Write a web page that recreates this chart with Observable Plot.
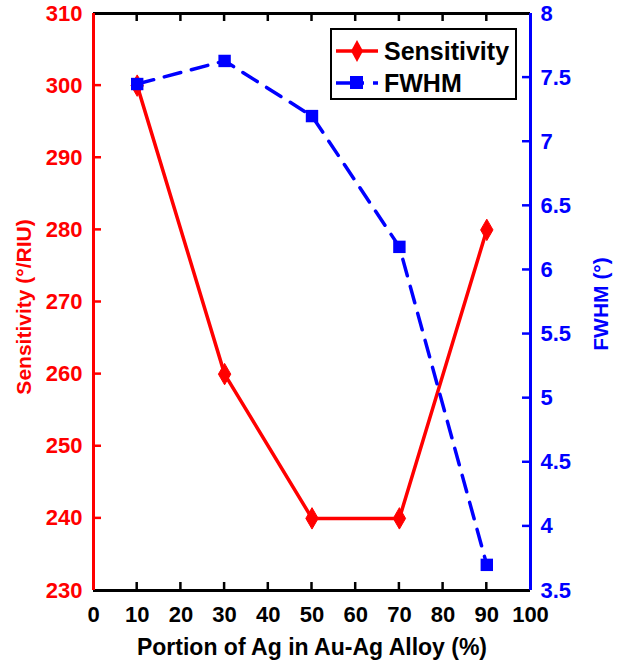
<!DOCTYPE html>
<html>
<head>
<meta charset="utf-8">
<script src="https://cdn.jsdelivr.net/npm/d3@7"></script>
<script src="https://cdn.jsdelivr.net/npm/@observablehq/plot@0.6"></script>
<style>
  html, body { margin: 0; padding: 0; background: #fff; }
  #wrap { position: relative; width: 617px; height: 660px; }
  #legend { position: absolute; left: 330px; top: 28px; width: 183px; height: 68px;
    border: 2.5px solid #000; background: #fff; font-family: "Liberation Sans", Arial, sans-serif;
    font-weight: bold; font-size: 25px; }
  #legend .row { position: absolute; left: 0; height: 32px; display: flex; align-items: center; }
  #legend svg { display: block; }
</style>
</head>
<body>
<div id="wrap"></div>
<script>
// ---- data ----
const portion = [10, 30, 50, 70, 90];               // Portion of Ag (%)
const sensitivity = [300, 260, 240, 240, 280];       // deg/RIU
const fwhm = [7.45, 7.63, 7.20, 6.18, 3.70];         // deg
const xTicks = [0, 10, 20, 30, 40, 50, 60, 70, 80, 90, 100];
const sensTicks = [230, 240, 250, 260, 270, 280, 290, 300, 310];
const fwhmTicks = [3.5, 4, 4.5, 5, 5.5, 6, 6.5, 7, 7.5, 8];
const xLabel = "Portion of Ag in Au-Ag Alloy (%)";
const yLabelLeft = "Sensitivity (°/RIU)";
const yLabelRight = "FWHM (°)";
const seriesNames = ["Sensitivity", "FWHM"];

const S = [230, 310], F = [3.5, 8];
const toS = f => S[0] + (f - F[0]) * (S[1] - S[0]) / (F[1] - F[0]);
const toF = s => F[0] + (s - S[0]) * (F[1] - F[0]) / (S[1] - S[0]);

const red = "#ff0000", blue = "#0000ff";
const sensData = portion.map((p, i) => ({x: p, y: sensitivity[i]}));
const fwhmData = portion.map((p, i) => ({x: p, y: toS(fwhm[i])}));

const W = 617, H = 660, mL = 93, mR = 87, mT = 13, mB = 70;
const tk = 8;
const innerX = xTicks.slice(1, -1);
const innerS = sensTicks.slice(1, -1);
const innerF = fwhmTicks.slice(1, -1);

const chart = Plot.plot({
  width: W, height: H,
  marginLeft: mL, marginRight: mR, marginTop: mT, marginBottom: mB,
  style: {fontFamily: "'Liberation Sans', Arial, sans-serif", fontWeight: "bold", fontSize: "22px", background: "#fff", overflow: "visible"},
  x: {domain: [0, 100]},
  y: {domain: S},
  marks: [
    Plot.ruleY([S[0]], {stroke: "#000", strokeWidth: 3}),
    Plot.ruleY([S[1]], {stroke: "#000", strokeWidth: 3}),
    Plot.axisX({ticks: xTicks, anchor: "bottom", tickSize: 0, tickPadding: 16, color: "#000", label: null}),
    Plot.axisY({ticks: sensTicks, anchor: "left", tickSize: 0, tickPadding: 11, color: red, label: null}),
    Plot.axisY({ticks: fwhmTicks.map(toS), anchor: "right", tickSize: 0, tickPadding: 10, color: blue, label: null,
      tickFormat: s => d3.format("")(+toF(s).toFixed(2))}),
    Plot.ruleX([0], {stroke: red, strokeWidth: 3}),
    Plot.ruleX([100], {stroke: blue, strokeWidth: 3}),
    Plot.text([yLabelLeft], {frameAnchor: "left", dx: -69, dy: 5, rotate: -90, textAnchor: "middle", lineAnchor: "middle", fill: red, fontSize: 21, fontWeight: "bold"}),
    Plot.text([yLabelRight], {frameAnchor: "right", dx: 71, dy: 2, rotate: -90, textAnchor: "middle", lineAnchor: "middle", fill: blue, fontSize: 21, fontWeight: "bold"}),
    Plot.text([xLabel], {frameAnchor: "bottom", dy: 57, lineAnchor: "middle", textAnchor: "middle", fill: "#000", fontSize: 23, fontWeight: "bold"}),
    Plot.line(sensData, {x: "x", y: "y", stroke: red, strokeWidth: 3.5}),
    Plot.dot(sensData, {x: "x", y: "y", symbol: "diamond", r: 6.5, fill: red, stroke: red, strokeWidth: 1}),
    Plot.line(fwhmData, {x: "x", y: "y", stroke: blue, strokeWidth: 3.5, strokeDasharray: "17,11"}),
    Plot.dot(fwhmData, {x: "x", y: "y", symbol: "square", r: 7, fill: blue})
  ]
});

// inward tick marks, positioned through the chart's own scales
const xs = chart.scale("x"), ys = chart.scale("y");
const svgNS = "http://www.w3.org/2000/svg";
const tickG = document.createElementNS(svgNS, "g");
function addTick(x1, y1, x2, y2, color) {
  const l = document.createElementNS(svgNS, "line");
  l.setAttribute("x1", x1); l.setAttribute("y1", y1);
  l.setAttribute("x2", x2); l.setAttribute("y2", y2);
  l.setAttribute("stroke", color); l.setAttribute("stroke-width", 2.5);
  tickG.appendChild(l);
}
const yBot = ys.apply(S[0]), yTop = ys.apply(S[1]);
const xLeft = xs.apply(0), xRight = xs.apply(100);
innerX.forEach(v => {
  const px = xs.apply(v);
  addTick(px, yBot, px, yBot - tk, "#000");
  addTick(px, yTop, px, yTop + tk, "#000");
});
innerS.forEach(v => { const py = ys.apply(v); addTick(xLeft, py, xLeft + tk, py, red); });
innerF.forEach(v => { const py = ys.apply(toS(v)); addTick(xRight, py, xRight - tk, py, blue); });
const svgEl = chart.tagName.toLowerCase() === "svg" ? chart : chart.querySelector("svg");
svgEl.insertBefore(tickG, svgEl.children[Math.min(7, svgEl.children.length)] || null);

const wrap = document.getElementById("wrap");
wrap.appendChild(chart);

const legend = document.createElement("div");
legend.id = "legend";
legend.innerHTML = `
  <div class="row" style="top:5px">
    <svg width="52" height="32"><line x1="4" y1="16" x2="46" y2="16" stroke="${red}" stroke-width="3.5"/>
      <path d="M25,5 L31,16 L25,27 L19,16 Z" fill="${red}"/></svg>
    <span>${seriesNames[0]}</span></div>
  <div class="row" style="top:37px">
    <svg width="52" height="32"><line x1="4" y1="16" x2="46" y2="16" stroke="${blue}" stroke-width="3.5" stroke-dasharray="28,9,8,20"/>
      <rect x="18" y="9" width="13" height="13" fill="${blue}"/></svg>
    <span>${seriesNames[1]}</span></div>`;
wrap.appendChild(legend);
</script>
</body>
</html>
